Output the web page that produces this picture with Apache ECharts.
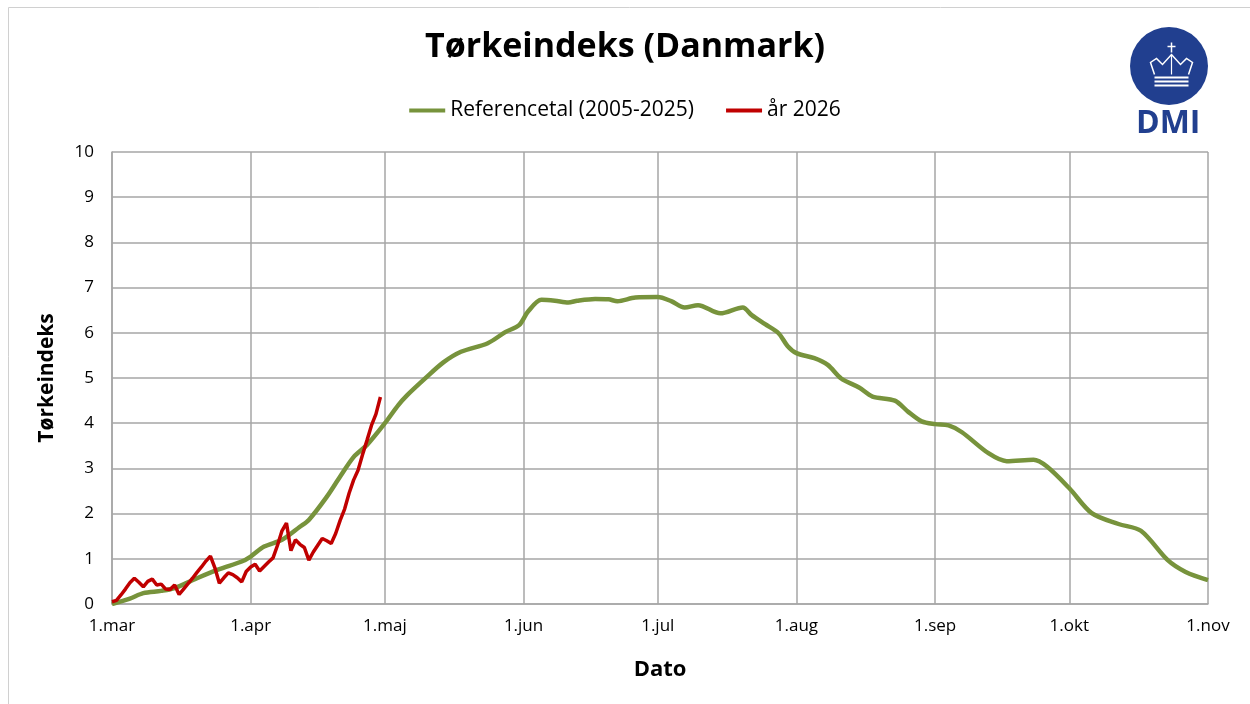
<!DOCTYPE html>
<html><head><meta charset="utf-8">
<script src="https://cdn.jsdelivr.net/npm/echarts@6/dist/echarts.min.js"></script>
<style>html,body{margin:0;padding:0;background:#fff}#c{width:1250px;height:704px}</style>
</head><body><div id="c"></div>
<script>
// Month tick positions (day offset from 1 March) and labels
const monthDays = [0, 31, 61, 92, 122, 153, 184, 214, 245];
const monthLabels = ['1.mar','1.apr','1.maj','1.jun','1.jul','1.aug','1.sep','1.okt','1.nov'];
const yTicks = [0,1,2,3,4,5,6,7,8,9,10];

// Reference series: [day, value]
const refDays = [0,4,7,11,14,19,24,29,31,34,38,42,44,48,51,54,57,61,64,66,70,74,78,84,88,91,93,96,99,102,104,108,111,113,117,122,125,128,131,136,141,143,146,149,151,153,157,160,163,167,170,175,178,181,184,187,190,196,200,206,209,214,219,225,230,236,240,245];
const refVals = [0,0.12,0.24,0.29,0.35,0.57,0.77,0.94,1.05,1.27,1.42,1.71,1.86,2.37,2.82,3.25,3.52,4.0,4.40,4.62,4.99,5.34,5.58,5.77,6.02,6.17,6.47,6.73,6.71,6.67,6.71,6.75,6.74,6.70,6.78,6.79,6.70,6.56,6.61,6.43,6.56,6.39,6.19,5.99,5.71,5.55,5.44,5.29,4.99,4.79,4.59,4.50,4.25,4.04,3.98,3.95,3.80,3.33,3.16,3.19,3.04,2.56,2.01,1.77,1.62,0.97,0.71,0.53];

// Year 2026, daily from 1 March
const curVals = [0.05,0.08,0.2,0.33,0.47,0.57,0.48,0.38,0.5,0.55,0.42,0.44,0.33,0.32,0.42,0.21,0.33,0.45,0.57,0.7,0.82,0.95,1.06,0.8,0.46,0.58,0.69,0.65,0.58,0.49,0.72,0.82,0.88,0.73,0.83,0.93,1.02,1.3,1.62,1.79,1.18,1.42,1.32,1.25,0.97,1.15,1.3,1.45,1.4,1.34,1.56,1.85,2.1,2.45,2.74,2.96,3.3,3.62,3.95,4.2,4.58];

const refData = refDays.map((d,i)=>[d, refVals[i]]);
const curData = curVals.map((v,i)=>[i, v]);

const FONT = '"Open Sans", "Liberation Sans", sans-serif';
const chart = echarts.init(document.getElementById('c'), null, {renderer:'canvas'});
chart.setOption({
  animation:false,
  backgroundColor:'#fff',
  title:{text:'Tørkeindeks (Danmark)', left:'center', top:25,
    textStyle:{fontFamily:FONT, fontSize:34, fontWeight:'bold', color:'#000'}},
  legend:{top:95, left:'center', itemGap:32, itemWidth:36, itemHeight:4, icon:'rect',
    textStyle:{fontFamily:FONT, fontSize:21, color:'#000'},
    data:['Referencetal (2005-2025)','år 2026']},
  grid:{left:112, right:42, top:152, bottom:100, containLabel:false},
  xAxis:{type:'value', min:0, max:245,
    name:'Dato', nameLocation:'middle', nameGap:55,
    nameTextStyle:{fontFamily:FONT, fontSize:22, fontWeight:'bold', color:'#000'},
    axisLine:{show:true, lineStyle:{color:'#a6a6a6', width:1.5}},
    axisTick:{show:false, customValues:monthDays},
    axisLabel:{customValues:monthDays, margin:14, fontFamily:FONT, fontSize:17, color:'#000',
      formatter:(v)=>monthLabels[monthDays.indexOf(v)]},
    splitLine:{show:true, lineStyle:{color:'#a6a6a6', width:1.5}}},
  yAxis:{type:'value', min:0, max:10, interval:1,
    name:'Tørkeindeks', nameLocation:'middle', nameGap:54, nameRotate:90,
    nameTextStyle:{fontFamily:FONT, fontSize:21, fontWeight:'bold', color:'#000'},
    axisLine:{show:true, lineStyle:{color:'#a6a6a6', width:1.5}},
    axisTick:{show:false},
    axisLabel:{margin:18, fontFamily:FONT, fontSize:17, color:'#000'},
    splitLine:{show:true, lineStyle:{color:'#a6a6a6', width:1.5}}},
  series:[
    {name:'Referencetal (2005-2025)', type:'line', data:refData, smooth:0.3, showSymbol:false,
      lineStyle:{color:'#77933c', width:4.5}, itemStyle:{color:'#77933c'}, z:2},
    {name:'år 2026', type:'line', data:curData, showSymbol:false,
      lineStyle:{color:'#c00000', width:3.5}, itemStyle:{color:'#c00000'}, z:3}
  ],
  graphic:[
    {type:'rect', shape:{x:8.5,y:7.5,width:1260,height:720}, style:{fill:'none', stroke:'#d0d0d0', lineWidth:1}, silent:true},
    {type:'circle', shape:{cx:1169, cy:66, r:39}, style:{fill:'#213f8f'}},
    {type:'group', left:1148, top:40, children:[
      {type:'polyline', shape:{points:[[4,26],[0,14],[6,10],[12,16],[21,6],[30,16],[36,10],[42,14],[38,26]]}, style:{fill:'none', stroke:'#fff', lineWidth:1.5}},
      {type:'line', shape:{x1:21,y1:6,x2:21,y2:26}, style:{stroke:'#fff', lineWidth:1.2}},
      {type:'line', shape:{x1:21,y1:-6,x2:21,y2:4}, style:{stroke:'#fff', lineWidth:1.5}},
      {type:'line', shape:{x1:17,y1:-2,x2:25,y2:-2}, style:{stroke:'#fff', lineWidth:1.5}},
      {type:'rect', shape:{x:4,y:28,width:34,height:2}, style:{fill:'#fff'}},
      {type:'rect', shape:{x:4,y:32,width:34,height:2}, style:{fill:'#fff'}},
      {type:'rect', shape:{x:4,y:36,width:34,height:2}, style:{fill:'#fff'}}
    ]},
    {type:'text', left:1136, top:108, style:{text:'DMI', fontFamily:FONT, fontSize:32, fontWeight:'bold', fill:'#213f8f'}}
  ]
});
</script></body></html>
